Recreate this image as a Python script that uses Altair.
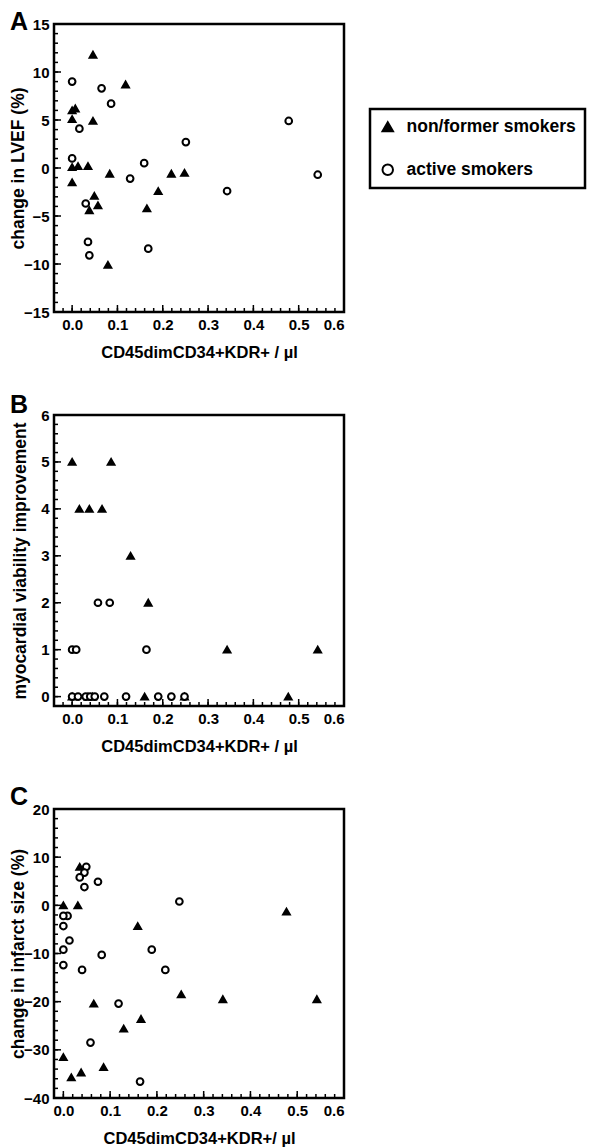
import altair as alt
import pandas as pd

FONT = "Liberation Sans"
GROUPS = ["non/former smokers", "active smokers"]

# ---------- Panel A: change in LVEF (%) ----------
a_tri_x = [0.046, 0.118, 0.0, 0.007, 0.0, 0.046, 0.0, 0.013, 0.035, 0.0, 0.083, 0.219,
           0.248, 0.049, 0.057, 0.038, 0.165, 0.190, 0.079]
a_tri_y = [11.8, 8.7, 6.0, 6.2, 5.1, 4.9, 0.1, 0.2, 0.2, -1.5, -0.6, -0.6,
           -0.5, -2.9, -3.9, -4.4, -4.2, -2.4, -10.1]
a_cir_x = [0.0, 0.065, 0.086, 0.016, 0.0, 0.159, 0.128, 0.030, 0.035, 0.038, 0.168,
           0.251, 0.478, 0.342, 0.542]
a_cir_y = [9.0, 8.3, 6.7, 4.1, 1.0, 0.5, -1.1, -3.7, -7.7, -9.1, -8.4,
           2.7, 4.9, -2.4, -0.7]

# ---------- Panel B: myocardial viability improvement ----------
b_tri_x = [0.0, 0.086, 0.016, 0.038, 0.066, 0.129, 0.168, 0.342, 0.542, 0.160, 0.477,
           0.0, 0.035, 0.045, 0.248]
b_tri_y = [5, 5, 4, 4, 4, 3, 2, 1, 1, 0, 0,
           0, 0, 0, 0]
b_cir_x = [0.0, 0.009, 0.164, 0.057, 0.083, 0.0, 0.013, 0.030, 0.040, 0.050, 0.071,
           0.119, 0.190, 0.219, 0.248]
b_cir_y = [1, 1, 1, 2, 2, 0, 0, 0, 0, 0, 0,
           0, 0, 0, 0]

# ---------- Panel C: change in infarct size (%) ----------
c_tri_x = [0.035, 0.0, 0.031, 0.159, 0.252, 0.065, 0.166, 0.129, 0.0, 0.086, 0.038,
           0.017, 0.477, 0.341, 0.542]
c_tri_y = [8.0, 0.0, 0.0, -4.3, -18.5, -20.4, -23.6, -25.6, -31.5, -33.6, -34.7,
           -35.7, -1.3, -19.5, -19.5]
c_cir_x = [0.049, 0.045, 0.035, 0.074, 0.045, 0.248, 0.009, 0.0, 0.0, 0.013, 0.0,
           0.189, 0.082, 0.0, 0.040, 0.218, 0.118, 0.058, 0.164]
c_cir_y = [8.0, 6.8, 5.8, 4.9, 3.8, 0.8, -2.2, -2.2, -4.3, -7.3, -9.2,
           -9.2, -10.3, -12.4, -13.4, -13.4, -20.4, -28.5, -36.6]

# axis tick values
x_major = [0.0, 0.1, 0.2, 0.3, 0.4, 0.5, 0.6]
x_minor_a = [round(-0.04 + 0.02 * i, 2) for i in range(33)]
x_minor_c = [round(-0.02 + 0.02 * i, 2) for i in range(32)]
a_major = [-15, -10, -5, 0, 5, 10, 15]
a_minor = list(range(-15, 16))
b_major = [0, 1, 2, 3, 4, 5, 6]
b_minor = [round(0.2 * i, 1) for i in range(31)]
c_major = [-40, -30, -20, -10, 0, 10, 20]
c_minor = list(range(-40, 21, 2))

W = 290


def make_df(tx, ty, cx, cy):
    return pd.DataFrame({
        "x": tx + cx,
        "y": ty + cy,
        "g": [GROUPS[0]] * len(tx) + [GROUPS[1]] * len(cx),
    })


def panel(df, letter, letter_y, xdom, ydom, ymaj, ymin, xmin, ytitle, ytpad, xtitle, h, legend):
    xs = alt.Scale(domain=xdom, nice=False, zero=False)
    ys = alt.Scale(domain=ydom, nice=False, zero=False)
    ax_x = alt.Axis(values=x_major, format=".1f", title=xtitle, ticks=False,
                    domain=False, grid=False, labelPadding=5, titlePadding=12,
                    titleFontSize=16.5)
    ax_y = alt.Axis(values=ymaj, format="d", title=ytitle, ticks=False,
                    domain=False, grid=False, labelPadding=5, titlePadding=ytpad,
                    titleFontSize=17.5)
    pts = alt.Chart(df).mark_point(size=45, strokeWidth=2, opacity=1).encode(
        x=alt.X("x:Q", scale=xs, axis=ax_x),
        y=alt.Y("y:Q", scale=ys, axis=ax_y),
        shape=alt.Shape("g:N", scale=alt.Scale(domain=GROUPS, range=["triangle-up", "circle"]),
                        legend=legend),
        fill=alt.Fill("g:N", scale=alt.Scale(domain=GROUPS, range=["black", "white"]),
                      legend=legend),
        stroke=alt.Stroke("g:N", scale=alt.Scale(domain=GROUPS, range=["black", "black"]),
                          legend=legend),
    )

    def xticks(vals, length):
        return alt.Chart(pd.DataFrame({"x": vals})).mark_rule(
            color="black", strokeWidth=1.5).encode(
            x=alt.X("x:Q", scale=xs, axis=ax_x), x2=alt.X2("x"),
            y=alt.value(h), y2=alt.value(h - length))

    def yticks(vals, length):
        return alt.Chart(pd.DataFrame({"y": vals})).mark_rule(
            color="black", strokeWidth=1.5).encode(
            y=alt.Y("y:Q", scale=ys, axis=ax_y), y2=alt.Y2("y"),
            x=alt.value(0), x2=alt.value(length))

    let = alt.Chart(pd.DataFrame({"t": [letter]})).mark_text(
        font=FONT, fontSize=25, fontWeight="bold", align="left", baseline="top",
        color="black").encode(text="t:N", x=alt.value(-44), y=alt.value(letter_y))
    return alt.layer(pts, xticks(xmin, 4), xticks(x_major, 7), yticks(ymin, 4),
                     yticks(ymaj, 7), let).properties(width=W, height=h)


# legend attached to panel B but drawn beside panel A (relative to B's plot origin)
leg = alt.Legend(title=None, orient="none", legendX=316, legendY=-306, strokeColor="black",
                 padding=9, symbolSize=110, symbolStrokeWidth=2,
                 labelFont=FONT, labelFontWeight="bold", labelFontSize=17.5, labelColor="black",
                 labelOffset=10, rowPadding=24, labelLimit=400)

pa = panel(make_df(a_tri_x, a_tri_y, a_cir_x, a_cir_y), "A", -14, [-0.04, 0.6], [-15, 15],
           a_major, a_minor, x_minor_a, "change in LVEF (%)", -4,
           "CD45dimCD34+KDR+ / µl", 288, None)
pb = panel(make_df(b_tri_x, b_tri_y, b_cir_x, b_cir_y), "B", -22, [-0.04, 0.6], [-0.2, 6],
           b_major, b_minor, x_minor_a, "myocardial viability improvement", 11,
           "CD45dimCD34+KDR+ / µl", 291, leg)
pc = panel(make_df(c_tri_x, c_tri_y, c_cir_x, c_cir_y), "C", -24, [-0.02, 0.6], [-40, 20],
           c_major, c_minor, x_minor_c, "change in infarct size (%)", -4,
           "CD45dimCD34+KDR+/ µl", 289, None)

chart = alt.vconcat(pa, pb, pc, spacing=103, bounds="flush").resolve_legend(
    shape="independent", fill="independent", stroke="independent"
).properties(
    padding={"left": 0, "top": 0, "right": 0, "bottom": 0}
).configure_view(
    stroke="black", strokeWidth=2.5
).configure_axis(
    labelFont=FONT, labelFontWeight="bold", labelFontSize=15, labelColor="black",
    titleFont=FONT, titleFontWeight="bold", titleColor="black"
).configure_legend(
    strokeWidth=2.5
)

chart.save("out.html", embed_options={"renderer": "svg", "actions": False})
